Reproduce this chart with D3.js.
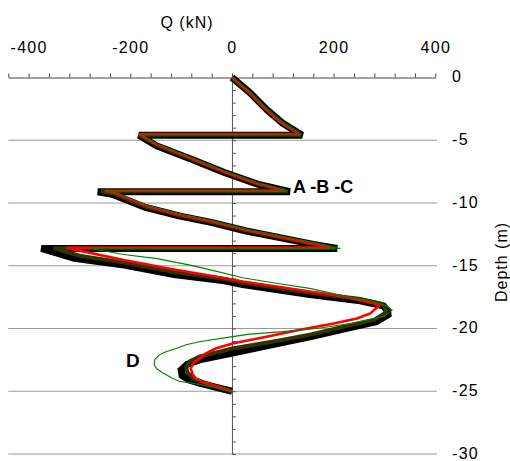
<!DOCTYPE html>
<html>
<head>
<meta charset="utf-8">
<script src="https://cdn.jsdelivr.net/npm/d3@7"></script>
<style>
  html, body { margin: 0; padding: 0; background: #fff; }
  svg text { font-family: "Liberation Sans", Arial, sans-serif; }
</style>
</head>
<body>
<svg id="chart" width="510" height="461"></svg>
<script>
// Shear force Q (kN) along the pile against depth (m), four calculations.
const depthA = [0, -1.2, -2.55, -3.65, -4.6, -4.6, -5.45, -6.5, -7.57, -8.5, -9.1, -9.1, -9.3, -10.35, -11.03, -11.56, -12.23, -12.76, -13.3, -13.62, -13.62,
  -14.4, -14.95, -15.7, -16.2, -16.5, -17.3, -17.8, -18.2, -18.6, -18.9, -19.45, -19.75, -20.05, -20.6, -21.1, -21.95, -22.5, -22.85, -23.3, -23.75, -24.1, -24.35, -24.7, -25];
const shearA = [0, 35, 68, 100, 138, -183, -148, -81, -15, 50, 114, -264, -236, -170, -104, -39, 28, 94, 160, 207, -375,
  -310, -212, -114, -15, 21, 153, 252, 298, 306, 307, 284, 252, 219, 160, 101, 1, -64, -88, -100, -98, -84, -64, -31, 0];

const depthB = [0, -1.18, -2.52, -3.62, -4.57, -4.57, -5.4, -6.46, -7.53, -8.46, -9.07, -9.07, -9.25, -10.3, -10.98, -11.51, -12.18, -12.71, -13.25, -13.6, -13.6,
  -14.2, -14.75, -15.5, -16.05, -16.35, -17.15, -17.65, -18.05, -18.45, -18.75, -19.3, -19.6, -19.9, -20.45, -20.9, -21.6, -22.25, -22.6, -23.05, -23.5, -24.0, -24.3, -24.65, -25];
const shearB = [0, 34, 67, 99, 136, -183, -148, -81, -16, 49, 110, -258, -233, -169, -104, -40, 27, 92, 158, 202, -351,
  -300, -212, -114, -15, 21, 153, 252, 296, 303, 302, 280, 248, 215, 158, 101, 1, -64, -82, -90, -88, -75, -55, -28, 0];

const depthC = [0, -1.17, -2.5, -3.6, -4.52, -4.52, -5.35, -6.42, -7.5, -8.42, -9.02, -9.02, -9.2, -10.25, -10.93, -11.46, -12.13, -12.66, -13.2, -13.56, -13.56,
  -14.55, -15.3, -15.88, -16.25, -16.65, -17.05, -17.45, -17.8, -18.0, -18.2, -18.8, -19.2, -19.6, -20.1, -20.65, -21.2, -21.6, -22.0, -22.4, -22.8, -23.2, -23.6, -24.0, -24.3, -24.5, -24.75, -25];
const shearC = [0, 33, 65, 97, 133, -183, -148, -82, -17, 48, 104, -250, -230, -168, -104, -41, 25, 90, 155, 195, -326,
  -213, -114, -30, 21, 87, 153, 219, 258, 279, 289, 272, 246, 200, 134, 68, 1, -32, -52, -64, -77, -81, -78, -71, -55, -38, -18, 0];

const depthD = [0, -1.15, -2.48, -3.58, -4.56, -4.56, -5.33, -6.4, -7.47, -8.4, -9.06, -9.06, -9.17, -10.22, -10.9, -11.43, -12.1, -12.63, -13.17, -13.63, -13.63,
  -14.1, -14.43, -14.97, -15.45, -15.95, -16.4, -16.8, -17.4, -17.8, -18.2, -18.55, -19.05, -19.6, -20.0, -20.25, -20.45, -20.65, -21.05, -21.3, -21.6, -21.85, -22.1, -22.5, -22.9, -23.25, -23.5, -23.9, -24.2, -24.45, -24.97, -25];
const shearD = [0, 34, 67, 99, 135, -180, -146, -80, -14, 51, 108, -250, -228, -165, -100, -37, 29, 95, 161, 213, -278,
  -213, -147, -80, -30, 21, 87, 153, 219, 272, 305, 315, 298, 233, 167, 101, 35, 1, -64, -90, -110, -130, -143, -152, -153, -147, -137, -120, -104, -64, -5, 0];

const qTickLabels = [-400, -200, 0, 200, 400];
const depthTickLabels = [0, -5, -10, -15, -20, -25, -30];

const svg = d3.select("#chart");

const x = d3.scaleLinear().domain([-440, 400]).range([8.3, 435.3]);
const y = d3.scaleLinear().domain([0, -30]).range([77.5, 454]);

// horizontal grid lines every 5 m
svg.append("g")
  .selectAll("line")
  .data(depthTickLabels.filter(d => d !== 0))
  .join("line")
  .attr("x1", x(-440)).attr("x2", 437)
  .attr("y1", d => y(d)).attr("y2", d => y(d))
  .attr("stroke", "#9a9a9a").attr("stroke-width", 1);

// top Q axis: minor ticks every 40 kN, labels every 200 kN
const minorQ = d3.range(-440, 401, 40);
const topAxis = d3.axisTop(x)
  .tickValues(minorQ)
  .tickSize(4)
  .tickSizeOuter(0)
  .tickPadding(20.5)
  .tickFormat(d => qTickLabels.includes(d) ? String(d) : "");
const gTop = svg.append("g").attr("transform", "translate(0,77.5)").call(topAxis);
gTop.select(".domain").attr("stroke", "#444");
gTop.selectAll(".tick line").attr("stroke", "#444");
gTop.selectAll(".tick text")
  .attr("font-size", 16).attr("fill", "#000")
  .style("letter-spacing", "1.3px")
  .attr("font-family", "Liberation Sans, Arial, sans-serif");

// vertical axis through Q = 0 with 1 m ticks
const vAxis = d3.axisRight(y)
  .tickValues(d3.range(0, -31, -1))
  .tickSize(4)
  .tickSizeOuter(0)
  .tickFormat("");
const gV = svg.append("g").attr("transform", `translate(${x(0)},0)`).call(vAxis);
gV.select(".domain").attr("stroke", "#555");
gV.selectAll(".tick line").attr("stroke", "#555");

// depth labels on the right
const rAxis = d3.axisRight(y)
  .tickValues(depthTickLabels)
  .tickSize(0)
  .tickPadding(15)
  .tickFormat(d => String(d));
const gR = svg.append("g").attr("transform", "translate(437,0)").call(rAxis);
gR.select(".domain").remove();
gR.selectAll(".tick text")
  .attr("font-size", 16).attr("fill", "#000")
  .attr("dy", "0.28em")
  .style("letter-spacing", "1.3px")
  .attr("font-family", "Liberation Sans, Arial, sans-serif");

// axis titles
svg.append("text")
  .attr("x", 187).attr("y", 28)
  .attr("text-anchor", "middle")
  .attr("font-size", 16)
  .style("letter-spacing", "1px")
  .text("Q (kN)");
svg.append("text")
  .attr("transform", "translate(507,262) rotate(-90)")
  .attr("text-anchor", "middle")
  .attr("font-size", 16)
  .style("letter-spacing", "1px")
  .text("Depth (m)");

// shear profiles
const line = d3.line().x(d => x(d[1])).y(d => y(d[0]));
const series = [
  { depth: depthA, shear: shearA, color: "#000000", width: 7 },
  { depth: depthB, shear: shearB, color: "#333300", width: 4 },
  { depth: depthC, shear: shearC, color: "#ff0000", width: 2.6 },
  { depth: depthD, shear: shearD, color: "#008000", width: 1.1 }
];
svg.append("g")
  .selectAll("path")
  .data(series)
  .join("path")
  .attr("d", s => line(s.depth.map((d, i) => [d, s.shear[i]])))
  .attr("fill", "none")
  .attr("stroke", s => s.color)
  .attr("stroke-width", s => s.width)
  .attr("stroke-linejoin", "miter")
  .attr("stroke-miterlimit", 2);

// curve labels
svg.append("text")
  .attr("x", 293).attr("y", 193)
  .attr("font-size", 18).attr("font-weight", "bold")
  .text("A -B -C");
svg.append("text")
  .attr("x", 126).attr("y", 367)
  .attr("font-size", 19).attr("font-weight", "bold")
  .text("D");
</script>
</body>
</html>
